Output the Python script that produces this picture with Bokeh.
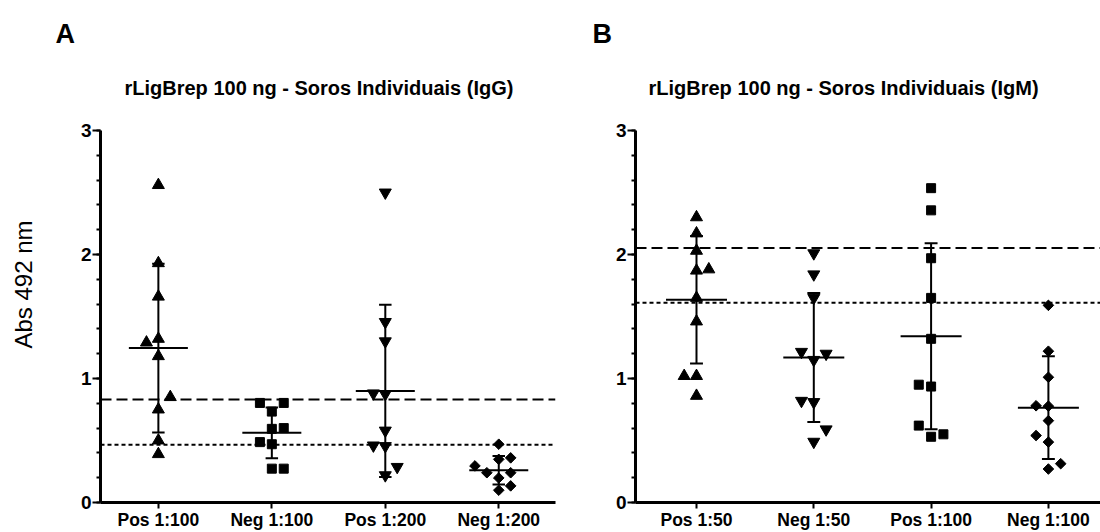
import numpy as np
from bokeh.plotting import figure
from bokeh.layouts import row
from bokeh.models import Range1d, FixedTicker, SingleIntervalTicker, Span, Title, ColumnDataSource
from bokeh.embed import file_html
from bokeh.resources import INLINE

FONT = "Liberation Sans"

# ---------------- data ----------------
cats_a = ["Pos 1:100", "Neg 1:100", "Pos 1:200", "Neg 1:200"]
cats_b = ["Pos 1:50", "Neg 1:50", "Pos 1:100", "Neg 1:100"]

title_a = "rLigBrep 100 ng - Soros Individuais (IgG)"
title_b = "rLigBrep 100 ng - Soros Individuais (IgM)"
y_label = "Abs 492 nm"

# Panel A (IgG)
a_pos100 = [2.56, 1.93, 1.66, 1.32, 1.29, 1.18, 0.85, 0.75, 0.50, 0.39]
a_pos100_slot = [0, 0, 0, 0, -1, 0, 1, 0, 0, 0]
a_neg100 = [0.803, 0.803, 0.733, 0.60, 0.594, 0.487, 0.47, 0.273, 0.273]
a_neg100_slot = [-1, 1, 0, 1, 0, -1, 0, 0, 1]
a_pos200 = [2.50, 1.456, 1.30, 0.88, 0.875, 0.58, 0.46, 0.455, 0.287, 0.22]
a_pos200_slot = [0, 0, 0, -1, 0, 0, -1, 0, 1, 0]
a_neg200 = [0.47, 0.36, 0.348, 0.295, 0.24, 0.24, 0.198, 0.134, 0.099]
a_neg200_slot = [0, 1, 0, -2, -1, 1, 0, 1, 0]
a_mean = [1.245, 0.562, 0.90, 0.26]
a_sd = [0.68, 0.205, 0.694, 0.115]
a_cut_dashed = 0.83
a_cut_dotted = 0.466

# Panel B (IgM)
b_pos50 = [2.30, 2.17, 2.03, 1.87, 1.88, 1.65, 1.46, 1.02, 1.02, 0.86]
b_pos50_slot = [0, 0, 0, 0, 1, 0, 0, -1, 0, 0]
b_neg50 = [2.01, 1.84, 1.65, 1.215, 1.20, 1.15, 0.82, 0.81, 0.59, 0.49]
b_neg50_slot = [0, 0, 0, -1, 1, 0, -1, 0, 1, 0]
b_pos100 = [2.535, 2.356, 1.97, 1.65, 1.32, 0.95, 0.935, 0.62, 0.55, 0.53]
b_pos100_slot = [0, 0, 0, 0, 0, -1, 0, -1, 1, 0]
b_neg100 = [1.59, 1.22, 1.01, 0.78, 0.777, 0.66, 0.54, 0.487, 0.313, 0.27]
b_neg100_slot = [0, 0, 0, -1, 0, 0, -1, 0, 1, 0]
b_mean = [1.635, 1.17, 1.34, 0.765]
b_sd = [0.515, 0.52, 0.75, 0.415]
b_cut_dashed = 2.053
b_cut_dotted = 1.61

y_ticks_interval = 1

# marker style per group: (marker, size, angle)
MARKERS = [("triangle", 12, 0.0), ("square", 9, 0.0), ("inverted_triangle", 12, 0.0), ("square", 7.5, np.pi / 4)]
MARKERS_B = [("triangle", 12, 0.0), ("inverted_triangle", 12, 0.0), ("square", 9, 0.0), ("square", 7.5, np.pi / 4)]

H = 532
TOP = 130
JIT = 0.105
MEAN_HALF = 0.26
CAP_HALF = 0.055
SHIFT = 30  # panel A canvas starts this many px left of the page edge


def make_panel(cats, groups, slots, markers, means, sds, cut_dash, cut_dot,
               title, letter, width, left, right, x0, x1, ylabel=None,
               title_dx=24, letter_dx=-45, ylabel_standoff=46):
    p = figure(width=width, height=H, x_range=Range1d(x0, x1), y_range=Range1d(0, 3),
               output_backend="svg", toolbar_location=None,
               min_border_left=left, min_border_right=right,
               min_border_top=TOP, min_border_bottom=0)
    p.outline_line_color = None
    p.xgrid.visible = False
    p.ygrid.visible = False
    p.background_fill_color = "white"
    p.border_fill_color = "white"

    # panel letter (outermost title) and chart title (inner)
    p.title.text = letter
    p.title.align = "left"
    p.title.offset = letter_dx
    p.title.text_font = FONT
    p.title.text_font_style = "bold"
    p.title.text_font_size = "27px"
    p.title.text_color = "black"
    p.title.standoff = -12
    p.add_layout(Title(text=title, align="left", offset=title_dx, text_font=FONT,
                       text_font_style="bold", text_font_size="20px",
                       text_color="black", standoff=64), "above")

    # axes
    xa = p.xaxis[0]
    xa.ticker = FixedTicker(ticks=[1, 2, 3, 4])
    xa.major_label_overrides = {i + 1: c for i, c in enumerate(cats)}
    xa.minor_tick_line_color = None
    xa.major_tick_in = 0
    xa.major_tick_out = 6
    xa.major_tick_line_width = 2
    xa.axis_line_width = 3
    xa.major_label_standoff = 1
    xa.major_label_text_font = FONT
    xa.major_label_text_font_style = "bold"
    xa.major_label_text_font_size = "17.5px"
    xa.major_label_text_color = "black"

    ya = p.yaxis[0]
    ya.ticker = SingleIntervalTicker(interval=y_ticks_interval, num_minor_ticks=5)
    ya.major_tick_in = 0
    ya.major_tick_out = 8
    ya.minor_tick_in = 0
    ya.minor_tick_out = 4
    ya.major_tick_line_width = 2
    ya.minor_tick_line_width = 2
    ya.axis_line_width = 3
    ya.major_label_standoff = 1
    ya.major_label_text_font = FONT
    ya.major_label_text_font_style = "bold"
    ya.major_label_text_font_size = "19px"
    ya.major_label_text_color = "black"
    if ylabel:
        p.add_layout(Title(text=ylabel, align="left", offset=154, vertical_align="top",
                           text_font=FONT, text_font_style="normal", text_font_size="24px",
                           text_color="black", standoff=ylabel_standoff), "left")

    # cut-off lines
    p.add_layout(Span(location=cut_dash, dimension="width", line_color="black",
                      line_width=2, line_dash="11 5"))
    p.add_layout(Span(location=cut_dot, dimension="width", line_color="black",
                      line_width=2, line_dash="4 3"))

    # points
    for i, (vals, sl, (mk, sz, ang)) in enumerate(zip(groups, slots, markers)):
        xs = [i + 1 + s * JIT for s in sl]
        p.scatter(x=xs, y=vals, marker=mk, size=sz, angle=ang,
                  fill_color="black", line_color="black", line_width=1)

    # mean and SD
    pos = np.arange(1, len(cats) + 1)
    m = np.array(means)
    s = np.array(sds)
    src = ColumnDataSource(dict(x=pos, m=m, lo=m - s, hi=m + s))
    p.segment(x0="x", x1="x", y0="lo", y1="hi", source=src, line_color="black", line_width=2)
    src2 = ColumnDataSource(dict(xl=pos - MEAN_HALF, xr=pos + MEAN_HALF, m=m))
    p.segment(x0="xl", x1="xr", y0="m", y1="m", source=src2, line_color="black", line_width=2)
    src3 = ColumnDataSource(dict(xl=np.concatenate([pos - CAP_HALF, pos - CAP_HALF]),
                                 xr=np.concatenate([pos + CAP_HALF, pos + CAP_HALF]),
                                 y=np.concatenate([m - s, m + s])))
    p.segment(x0="xl", x1="xr", y0="y", y1="y", source=src3, line_color="black", line_width=2)
    return p


pA = make_panel(cats_a, [a_pos100, a_neg100, a_pos200, a_neg200],
                [a_pos100_slot, a_neg100_slot, a_pos200_slot, a_neg200_slot],
                MARKERS, a_mean, a_sd, a_cut_dashed, a_cut_dotted,
                title_a, "A", width=568 + SHIFT, left=99 + SHIFT, right=13, x0=0.49, x1=4.50,
                ylabel=y_label, title_dx=24, letter_dx=-45, ylabel_standoff=78)
pA.margin = (0, 0, 0, -SHIFT)

pB = make_panel(cats_b, [b_pos50, b_neg50, b_pos100, b_neg100],
                [b_pos50_slot, b_neg50_slot, b_pos100_slot, b_neg100_slot],
                MARKERS_B, b_mean, b_sd, b_cut_dashed, b_cut_dotted,
                title_b, "B", width=532, left=67, right=0, x0=0.48, x1=0.48 + 465 / 117.3,
                title_dx=13, letter_dx=-43)

layout = row(pA, pB)
open("out.html", "w").write(file_html(layout, INLINE))
